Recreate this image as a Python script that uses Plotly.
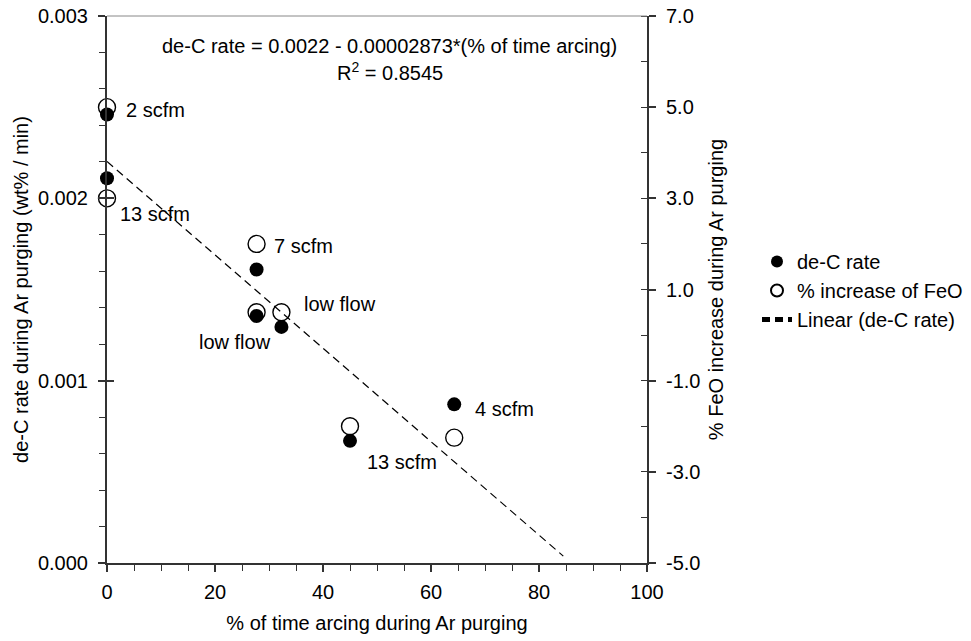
import numpy as np
import plotly.graph_objects as go

# ---------------- data ----------------
arc_pct = [0.0, 0.0, 27.7, 27.7, 32.3, 45.0, 64.3]
dec_rate = [0.00246, 0.00211, 0.00161, 0.001355, 0.001295, 0.00067, 0.00087]
feo_inc = [5.0, 3.0, 2.0, 0.5, 0.5, -2.0, -2.25]

trend_x_range = [0.0, 84.5]

x_ticks = [0, 20, 40, 60, 80, 100]
y_ticks = [0.000, 0.001, 0.002, 0.003]
y_ticklabels = ["0.000", "0.001", "0.002", "0.003"]
y2_ticks = [-5, -3, -1, 1, 3, 5, 7]
y2_ticklabels = ["-5.0", "-3.0", "-1.0", "1.0", "3.0", "5.0", "7.0"]

labels = ["2 scfm", "13 scfm", "7 scfm", "low flow", "low flow", "4 scfm", "13 scfm"]
label_pos = [(3.15, 0.002484), (2.0, 0.001914), (30.6, 0.001739), (36.1, 0.001420),
             (16.7, 0.001212), (67.8, 0.000845), (47.8, 0.000554)]

# linear fit of de-C rate vs % arcing
slope, intercept = np.polyfit(arc_pct, dec_rate, 1)
trend_x = np.array(trend_x_range)
trend_y = intercept + slope * trend_x

FONT = "Liberation Sans, Arial, sans-serif"
AX = "#333333"

fig = go.Figure()

fig.add_trace(go.Scatter(
    x=arc_pct, y=feo_inc, mode="markers", name="% increase of FeO", yaxis="y2",
    cliponaxis=False,
    marker=dict(symbol="circle", size=17, color="white", line=dict(color="black", width=1.4)),
    legendrank=2))
fig.add_trace(go.Scatter(
    x=arc_pct, y=dec_rate, mode="markers", name="de-C rate", yaxis="y3",
    cliponaxis=False,
    marker=dict(symbol="circle", size=14, color="black", line=dict(width=0)),
    legendrank=1))
fig.add_trace(go.Scatter(
    x=trend_x, y=trend_y, mode="lines", name="Linear (de-C rate)", yaxis="y3",
    line=dict(color="black", width=1.2, dash="8px,5px"), legendrank=3))

for txt, (lx, ly) in zip(labels, label_pos):
    fig.add_annotation(x=lx, y=ly, xref="x", yref="y", text=txt, showarrow=False,
                       xanchor="left", yanchor="middle", font=dict(size=20, color="black"))

fig.add_annotation(x=0.524, y=0.945, xref="paper", yref="paper",
                   text="de-C rate = 0.0022 - 0.00002873*(% of time arcing)",
                   showarrow=False, xanchor="center", yanchor="middle",
                   font=dict(size=20, color="black"))
fig.add_annotation(x=0.524, y=0.899, xref="paper", yref="paper",
                   text="R<sup>2</sup> = 0.8545",
                   showarrow=False, xanchor="center", yanchor="middle",
                   font=dict(size=20, color="black"))

# top frame line
fig.add_shape(type="line", xref="paper", yref="paper", x0=0, x1=1, y0=1, y1=1,
              line=dict(color="#888888", width=1))

fig.update_layout(
    width=971, height=641,
    margin=dict(l=107, r=324, t=16, b=78, autoexpand=False),
    paper_bgcolor="white", plot_bgcolor="white",
    font=dict(family=FONT, size=20, color="black"),
    showlegend=True,
    legend=dict(x=(757 - 107) / 540, xanchor="left", y=1 - (242 - 16) / 547, yanchor="top",
                bgcolor="rgba(0,0,0,0)", font=dict(size=20), itemsizing="constant",
                tracegroupgap=0, borderwidth=0),
    xaxis=dict(range=[0, 100], showgrid=False, zeroline=False, showline=True, automargin=False,
               linecolor=AX, linewidth=2, ticks="outside", ticklen=7, tickwidth=1.5,
               tickcolor=AX, tickvals=x_ticks, tickfont=dict(size=20),
               minor=dict(ticks="outside", ticklen=6, tickwidth=1.2, tickcolor=AX, dtick=5, tick0=0,
                          showgrid=False),
               title=dict(text="% of time arcing during Ar purging", font=dict(size=20), standoff=14),
               ticklabelstandoff=3),
    xaxis2=dict(range=[0, 100], overlaying="x", side="bottom", anchor="y", showgrid=False,
                zeroline=False, showline=False, ticks="inside", ticklen=7, tickwidth=1.5,
                tickcolor=AX, tickvals=x_ticks, showticklabels=False, automargin=False),
    yaxis=dict(range=[0, 0.003], showgrid=False, zeroline=False, showline=True, automargin=False,
               linecolor=AX, linewidth=2, ticks="outside", ticklen=7, tickwidth=1.5,
               tickcolor=AX, tickvals=y_ticks, ticktext=y_ticklabels, tickfont=dict(size=20),
               minor=dict(ticks="outside", ticklen=6, tickwidth=1.2, tickcolor=AX, dtick=0.0002,
                          tick0=0, showgrid=False),
               title=dict(text="de-C rate during Ar purging (wt% / min)", font=dict(size=20),
                          standoff=4),
               ticklabelstandoff=6),
    yaxis2=dict(range=[-5, 7], overlaying="y", side="right", anchor="x", showgrid=False,
                zeroline=False, showline=True, linecolor=AX, linewidth=2, ticks="outside",
                ticklen=7, tickwidth=1.5, tickcolor=AX, tickvals=y2_ticks, ticktext=y2_ticklabels,
                tickfont=dict(size=20), automargin=False,
                minor=dict(ticks="inside", ticklen=6, tickwidth=1.2, tickcolor=AX, dtick=1, tick0=-5,
                           showgrid=False),
                title=dict(text="% FeO increase during Ar purging", font=dict(size=20), standoff=10),
                ticklabelstandoff=6),
    yaxis3=dict(range=[0, 0.003], overlaying="y", side="left", anchor="x", showgrid=False,
                zeroline=False, showline=False, ticks="inside", ticklen=7, tickwidth=1.5,
                tickcolor=AX, tickvals=y_ticks, showticklabels=False, automargin=False),
    yaxis4=dict(range=[-5, 7], overlaying="y", side="right", anchor="x", showgrid=False,
                zeroline=False, showline=False, ticks="inside", ticklen=7, tickwidth=1.5,
                tickcolor=AX, tickvals=y2_ticks, showticklabels=False, automargin=False),
)

fig.write_html("out.html")
